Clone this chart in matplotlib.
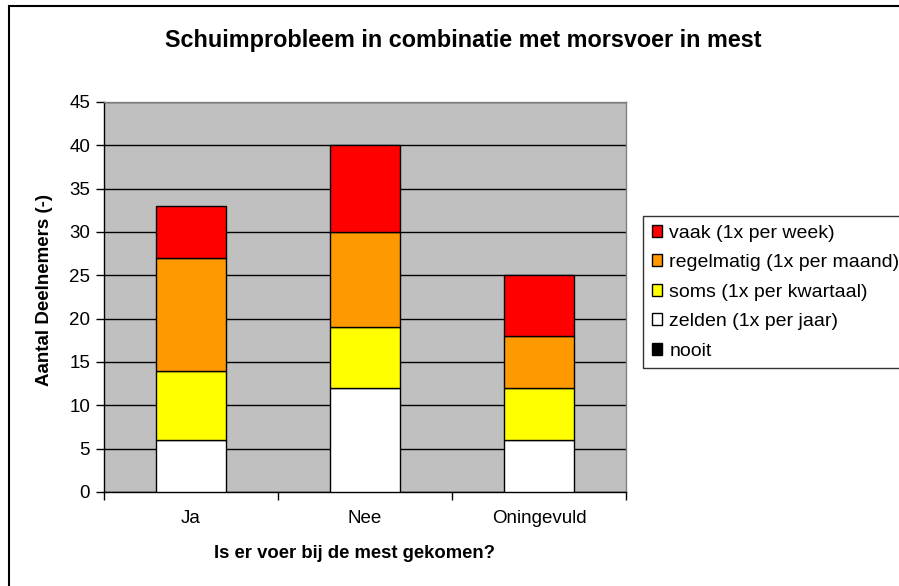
import matplotlib
matplotlib.use("Agg")
import matplotlib.pyplot as plt
from matplotlib.patches import Patch, Rectangle
import numpy as np

plt.rcParams['font.family'] = ['Liberation Sans', 'DejaVu Sans']

categories = ["Ja", "Nee", "Oningevuld"]
series_names = ["nooit", "zelden (1x per jaar)", "soms (1x per kwartaal)",
                "regelmatig (1x per maand)", "vaak (1x per week)"]
nooit = [0, 0, 0]
zelden = [6, 12, 6]
soms = [8, 7, 6]
regelmatig = [13, 11, 6]
vaak = [6, 10, 7]
series_values = [nooit, zelden, soms, regelmatig, vaak]
colors = ["#000000", "#FFFFFF", "#FFFF00", "#FF9900", "#FF0000"]

W, H = 899, 586
fig = plt.figure(figsize=(W / 100, H / 100), dpi=100)
ax = fig.add_axes([104 / W, 1 - 492 / H, (626 - 104) / W, (492 - 102) / H])
ax.set_facecolor("#C0C0C0")

x = np.arange(len(categories))
bottom = np.zeros(len(categories))
for name, vals, col in zip(series_names, series_values, colors):
    ax.bar(x, vals, width=0.40, bottom=bottom, color=col, edgecolor="black",
           linewidth=1.0, zorder=3)
    bottom += np.array(vals)

ax.set_xlim(-0.5, 2.5)
ax.set_ylim(0, 45)
ax.set_yticks(np.arange(0, 46, 5))
ax.yaxis.grid(True, color="black", linewidth=1.0, zorder=1)
ax.set_axisbelow(True)
ax.set_xticks(x)
ax.set_xticklabels(categories, fontsize=13.5)
ax.tick_params(axis='x', length=0, pad=13)
ax.set_xticks([-0.5, 0.5, 1.5, 2.5], minor=True)
ax.tick_params(axis='x', which='minor', length=6, width=1, color='black', direction='out')
ax.tick_params(axis='y', length=6, width=1, direction='out', labelsize=13.5, pad=4)
for s in ['left', 'bottom']:
    ax.spines[s].set_color('black')
    ax.spines[s].set_linewidth(1.0)
for s in ['top', 'right']:
    ax.spines[s].set_color('#808080')
    ax.spines[s].set_linewidth(1.0)

fig.text(463 / W, 1 - 41 / H, "Schuimprobleem in combinatie met morsvoer in mest",
         ha='center', va='center', fontsize=16.8, fontweight='bold')
fig.text(355 / W, 1 - 553 / H, "Is er voer bij de mest gekomen?",
         ha='center', va='center', fontsize=13.3, fontweight='bold')
fig.text(45 / W, 1 - 290 / H, "Aantal Deelnemers (-)", rotation=90,
         ha='center', va='center', fontsize=13.5, fontweight='bold')

handles = [Patch(facecolor=c, edgecolor='black', linewidth=1.0) for c in colors]
leg = fig.legend(handles[::-1], series_names[::-1], loc='upper left',
                 bbox_to_anchor=(643 / W, 1 - 216 / H), fontsize=14,
                 frameon=True, fancybox=False, edgecolor='black',
                 handlelength=0.55, handleheight=0.55, handletextpad=0.35,
                 labelspacing=0.64, borderpad=0.45, borderaxespad=0)
leg.get_frame().set_linewidth(1.0)

fig.patches.append(Rectangle((9 / W, -0.1), 1.2, 1 - 6 / H + 0.1,
                             transform=fig.transFigure, fill=False,
                             edgecolor='black', linewidth=1.5))

fig.savefig("out.png", dpi=100)
